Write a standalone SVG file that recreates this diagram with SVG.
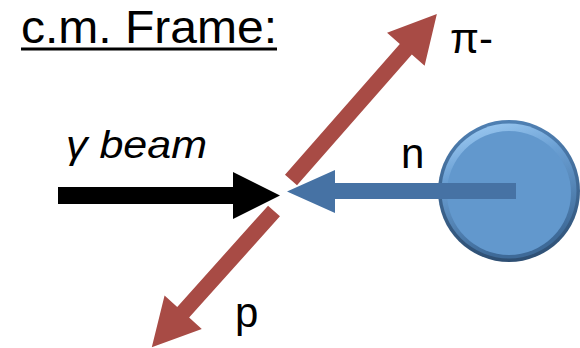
<svg xmlns="http://www.w3.org/2000/svg" width="580" height="348" viewBox="0 0 580 348">
<defs>
<style>
.lbl{font-family:"Liberation Sans","Open Sans",Arial,sans-serif;fill:#000}
.red{fill:#A84B45}
.blue{fill:#4672A4}
</style>
<linearGradient id="rim" x1="0" y1="0" x2="0" y2="1">
<stop offset="0" stop-color="#4F80B3"/>
<stop offset="1" stop-color="#2E4F73"/>
</linearGradient>
<linearGradient id="bevel" x1="0" y1="0" x2="0.3" y2="1">
<stop offset="0" stop-color="#A6D2F8"/>
<stop offset="0.4" stop-color="#6A9FD3"/>
<stop offset="1" stop-color="#3E6A98"/>
</linearGradient>
</defs>
<rect width="580" height="348" fill="#fff"/>
<g id="title">
<text class="lbl" x="21" y="43" font-size="47" textLength="256" lengthAdjust="spacingAndGlyphs">c.m. Frame:</text>
<rect x="21" y="47.5" width="256" height="3" fill="#000"/>
</g>
<g id="neutron">
<circle cx="509" cy="191" r="71" fill="url(#rim)"/>
<circle cx="509" cy="191" r="67.5" fill="url(#bevel)"/>
<circle cx="509" cy="193" r="62" fill="#6298CD"/>
</g>
<g id="connectors">
<polygon id="pi-arrow" class="red" transform="translate(291,180) rotate(-48.7)" points="0,-8 174,-8 174,-25 221,0 174,25 174,8 0,8"/>
<polygon id="p-arrow" class="red" transform="translate(274,211) rotate(131.9)" points="0,-8 136,-8 136,-25 183,0 136,25 136,8 0,8"/>
<polygon id="gamma-arrow" fill="#000" points="58,187 233,187 233,172 280,195.5 233,219 233,204 58,204"/>
<polygon id="n-arrow" class="blue" points="516,183 335,183 335,170 287,191.5 335,213 335,199 516,199"/>
</g>
<g id="labels">
<text class="lbl" x="66" y="158" font-size="38" font-style="italic" textLength="141" lengthAdjust="spacingAndGlyphs">γ beam</text>
<text class="lbl" x="401" y="168" font-size="42">n</text>
<text class="lbl" x="450" y="53" font-size="42">π-</text>
<text class="lbl" x="235" y="327" font-size="42">p</text>
</g>
</svg>
